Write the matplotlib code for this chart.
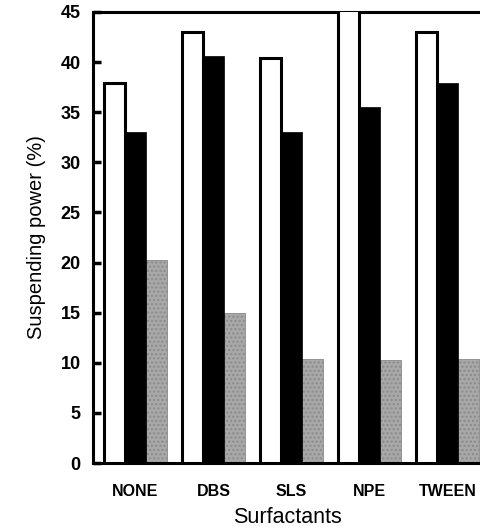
import matplotlib
matplotlib.use("Agg")
import matplotlib.pyplot as plt
import numpy as np

plt.rcParams['font.family'] = ['Liberation Sans', 'DejaVu Sans']
plt.rcParams['hatch.color'] = '#d0d0d0'

# data
surfactants = ['NONE', 'DBS', 'SLS', 'NPE', 'TWEEN']
series_a = [37.9, 43.0, 40.4, 45.5, 43.0]   # open bars
series_b = [33.0, 40.6, 33.0, 35.5, 37.9]   # solid bars
series_c = [20.3, 15.0, 10.4, 10.3, 10.4]   # grey bars
y_ticks = [0, 5, 10, 15, 20, 25, 30, 35, 40, 45]

fig = plt.figure(figsize=(4.81, 5.29), dpi=100)
ax = fig.add_axes([93 / 481, 1 - 463 / 529, 1 - 93 / 481, (463 - 12) / 529])

x = np.arange(len(surfactants))
w = 0.27

ax.bar(x - w, series_a, width=w, facecolor='white', edgecolor='black',
       linewidth=2.2, zorder=3)
ax.bar(x, series_b, width=w, facecolor='black', edgecolor='black',
       linewidth=0.5, zorder=2)
ax.bar(x + w, series_c, width=w, facecolor='#a8a8a8', edgecolor='#8a8a8a',
       linewidth=0.6, hatch='....', zorder=1)

ax.set_xlim(-0.545, 4.43)
ax.set_ylim(0, 45)
ax.set_yticks(y_ticks)
ax.set_xticks(x)
ax.set_xticklabels(surfactants, fontsize=11.5, fontweight='bold')
ax.set_yticklabels([str(t) for t in y_ticks], fontsize=13, fontweight='bold')

ax.tick_params(axis='y', direction='in', length=6, width=2.5, pad=9)
ax.tick_params(axis='x', length=0, pad=15)

for side in ['left', 'bottom', 'top']:
    ax.spines[side].set_linewidth(2.2)
ax.spines['right'].set_visible(False)

ax.set_xlabel('Surfactants', fontsize=15.5, labelpad=6)
ax.set_ylabel('Suspending power (%)', fontsize=14.5, labelpad=10)

fig.savefig('out.png', dpi=100)
